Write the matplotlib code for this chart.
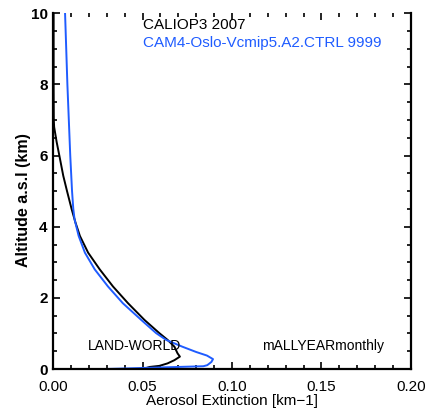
import matplotlib
matplotlib.use("Agg")
import matplotlib.pyplot as plt
from matplotlib.ticker import MultipleLocator, FormatStrFormatter

# CALIOP3 2007 (black) profile: extinction [km-1] vs altitude [km]
caliop_alt = [10.0, 8.0, 7.0, 6.8, 6.38, 6.0, 5.43, 5.0, 4.49, 4.12, 3.74,
              3.27, 2.8, 2.32, 1.85, 1.38, 1.01, 0.82, 0.63, 0.44, 0.35,
              0.25, 0.16, 0.09, 0.06, 0.03]
caliop_ext = [0.0003, 0.0003, 0.0004, 0.0006, 0.002, 0.0035, 0.0057, 0.0078,
              0.0104, 0.0125, 0.0150, 0.0196, 0.0261, 0.0335, 0.0419, 0.0511,
              0.0594, 0.0640, 0.0678, 0.0696, 0.0709, 0.0678, 0.0640, 0.0594,
              0.0540, 0.0520]

# CAM4-Oslo-Vcmip5.A2.CTRL 9999 (blue) profile
cam_alt = [10.0, 8.0, 7.0, 6.0, 5.0, 4.5, 4.21, 3.74, 3.27, 2.8, 2.32, 1.85,
           1.38, 1.01, 0.82, 0.63, 0.48, 0.38, 0.28, 0.2, 0.11, 0.08, 0.0]
cam_ext = [0.0067, 0.0080, 0.0088, 0.0096, 0.0106, 0.0113, 0.0120, 0.0143,
           0.0178, 0.0233, 0.0307, 0.0390, 0.0493, 0.0576, 0.0632, 0.0722,
           0.0800, 0.0860, 0.0894, 0.0885, 0.0862, 0.0840, 0.0280]

title_obs = "CALIOP3 2007"
title_mod = "CAM4-Oslo-Vcmip5.A2.CTRL 9999"
region = "LAND-WORLD"
period = "mALLYEARmonthly"

plt.rcParams["font.family"] = ["Liberation Sans", "DejaVu Sans"]
blue = "#1f5cff"

fig = plt.figure(figsize=(4.28, 4.11), dpi=100)
ax = fig.add_axes([0.124, 0.102, 0.836, 0.866])

ax.plot(caliop_ext, caliop_alt, color="black", lw=1.4)
ax.plot(cam_ext, cam_alt, color=blue, lw=1.4)

ax.set_xlim(0, 0.20)
ax.set_ylim(0, 10)
ax.xaxis.set_major_locator(MultipleLocator(0.05))
ax.xaxis.set_minor_locator(MultipleLocator(0.01))
ax.yaxis.set_major_locator(MultipleLocator(2))
ax.yaxis.set_minor_locator(MultipleLocator(0.5))
ax.xaxis.set_major_formatter(FormatStrFormatter("%.2f"))
ax.tick_params(which="both", direction="in", top=True, right=True, width=1.2)
ax.tick_params(which="major", length=5, labelsize=11)
ax.tick_params(which="minor", length=3)
ax.tick_params(axis="x", which="major", pad=8)
ax.tick_params(axis="y", which="major", pad=4)
for lab in ax.get_yticklabels():
    lab.set_fontweight("bold")
ax.spines["top"].set_visible(False)
for s in ("left", "right", "bottom"):
    ax.spines[s].set_linewidth(1.6)

ax.set_xlabel("Aerosol Extinction [km\u22121]", fontsize=11, labelpad=0)
ax.set_ylabel("Altitude a.s.l (km)", fontsize=11.5, fontweight="bold", labelpad=0)
ax.yaxis.label.set_y(0.475)

ax.text(0.05, 9.55, title_obs, fontsize=11, color="black", va="baseline")
ax.text(0.05, 9.04, title_mod, fontsize=11, color=blue, va="baseline")
ax.text(0.0195, 0.54, region, fontsize=10, va="baseline")
ax.text(0.117, 0.54, period, fontsize=10, va="baseline")

fig.savefig("out.png", dpi=100)
